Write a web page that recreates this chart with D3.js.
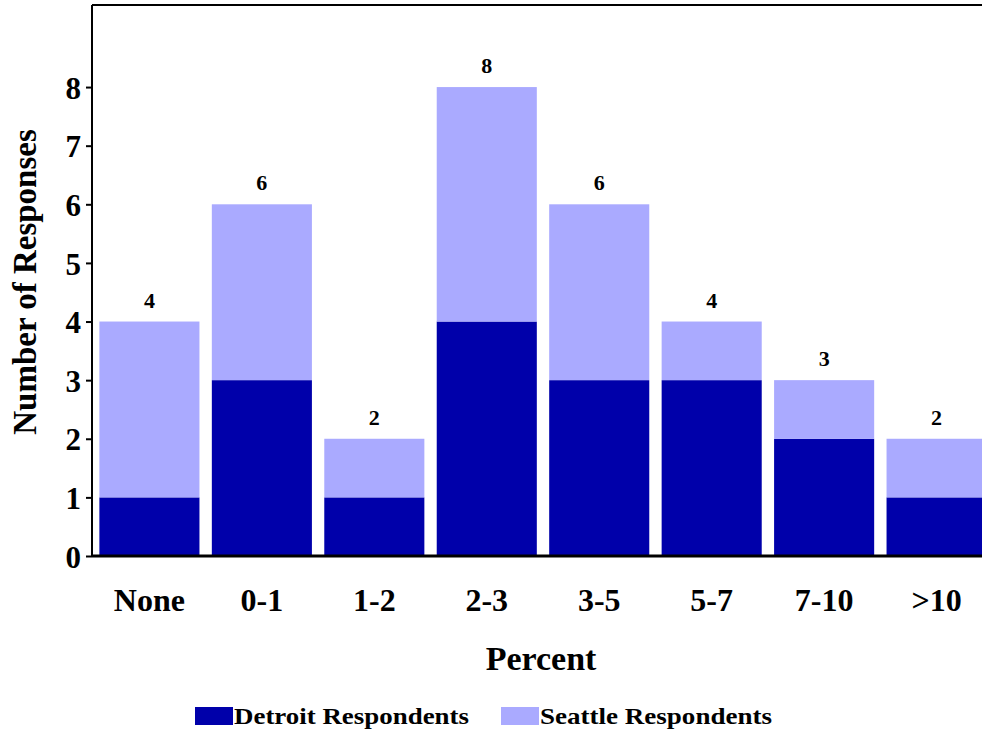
<!DOCTYPE html>
<html>
<head>
<meta charset="utf-8">
<script src="https://cdn.jsdelivr.net/npm/d3@7"></script>
<style>
  html, body { margin: 0; padding: 0; background: #fff; }
  svg { display: block; }
  text { font-family: "Liberation Serif", "Times New Roman", serif; font-weight: bold; fill: #000; }
</style>
</head>
<body>
<svg id="chart" width="982" height="734"></svg>
<script>
// Response counts by percentage bracket
const categories = ["None", "0-1", "1-2", "2-3", "3-5", "5-7", "7-10", ">10"];
const detroit = [1, 3, 1, 4, 3, 3, 2, 1];
const seattle = [3, 3, 1, 4, 3, 1, 1, 1];
const yTicks = [0, 1, 2, 3, 4, 5, 6, 7, 8];
const seriesNames = ["Detroit Respondents", "Seattle Respondents"];
const colors = ["#0000AA", "#AAAAFF"];

const svg = d3.select("#chart");
const plot = { left: 92, right: 990, top: 5, bottom: 556 };

const x = d3.scaleBand()
  .domain(categories)
  .range([plot.left + 4, plot.right])
  .paddingInner(0.11)
  .paddingOuter(0.03);

const y = d3.scaleLinear()
  .domain([0, 9.4])
  .range([plot.bottom, plot.top]);

const rows = categories.map((c, i) => ({ cat: c, Detroit: detroit[i], Seattle: seattle[i] }));
const stack = d3.stack().keys(["Detroit", "Seattle"])(rows);

const g = svg.append("g");
g.selectAll("g.series")
  .data(stack)
  .join("g")
  .attr("class", "series")
  .attr("fill", (d, i) => colors[i])
  .selectAll("rect")
  .data(d => d)
  .join("rect")
  .attr("x", d => x(d.data.cat))
  .attr("width", x.bandwidth())
  .attr("y", d => y(d[1]))
  .attr("height", d => y(d[0]) - y(d[1]));

// Totals above each bar
g.selectAll("text.total")
  .data(rows)
  .join("text")
  .attr("class", "total")
  .attr("x", d => x(d.cat) + x.bandwidth() / 2)
  .attr("y", d => y(d.Detroit + d.Seattle) - 14)
  .attr("text-anchor", "middle")
  .style("font-size", "22px")
  .text(d => d.Detroit + d.Seattle);

// Frame: top edge
svg.append("line")
  .attr("x1", plot.left).attr("x2", 982)
  .attr("y1", plot.top).attr("y2", plot.top)
  .attr("stroke", "#000").attr("stroke-width", 2);

// Y axis
const yAxis = svg.append("g")
  .attr("transform", `translate(${plot.left},0)`)
  .call(d3.axisLeft(y).tickValues(yTicks).tickSize(6).tickPadding(5).tickFormat(d3.format("d")));
yAxis.select(".domain").attr("d", `M0,${plot.top}V${plot.bottom}`).attr("stroke-width", 2);
yAxis.selectAll(".tick line").attr("stroke-width", 2);
yAxis.selectAll(".tick text")
  .style("font-size", "31px")
  .style("font-family", "'Liberation Serif', serif")
  .style("font-weight", "bold")
  .attr("dy", "0.36em");

// X axis
const xAxis = svg.append("g")
  .attr("transform", `translate(0,${plot.bottom})`)
  .call(d3.axisBottom(x).tickSize(0).tickPadding(32));
xAxis.select(".domain").attr("d", `M${plot.left},0H982`).attr("stroke-width", 3);
xAxis.selectAll(".tick text")
  .style("font-size", "32px")
  .style("font-family", "'Liberation Serif', serif")
  .style("font-weight", "bold");

// Axis titles
svg.append("text")
  .attr("transform", "translate(36,282) rotate(-90)")
  .attr("text-anchor", "middle")
  .style("font-size", "33px")
  .text("Number of Responses");

svg.append("text")
  .attr("x", 541).attr("y", 670)
  .attr("text-anchor", "middle")
  .style("font-size", "34px")
  .text("Percent");

// Legend
const legendItems = [
  { name: seriesNames[0], color: colors[0], x: 195, textLen: 235 },
  { name: seriesNames[1], color: colors[1], x: 501, textLen: 232 }
];
const legend = svg.append("g");
legendItems.forEach(it => {
  legend.append("rect")
    .attr("x", it.x).attr("y", 707)
    .attr("width", 38).attr("height", 18)
    .attr("fill", it.color);
  legend.append("text")
    .attr("x", it.x + 39).attr("y", 724)
    .attr("textLength", it.textLen)
    .attr("lengthAdjust", "spacingAndGlyphs")
    .style("font-size", "24px")
    .text(it.name);
});
</script>
</body>
</html>
